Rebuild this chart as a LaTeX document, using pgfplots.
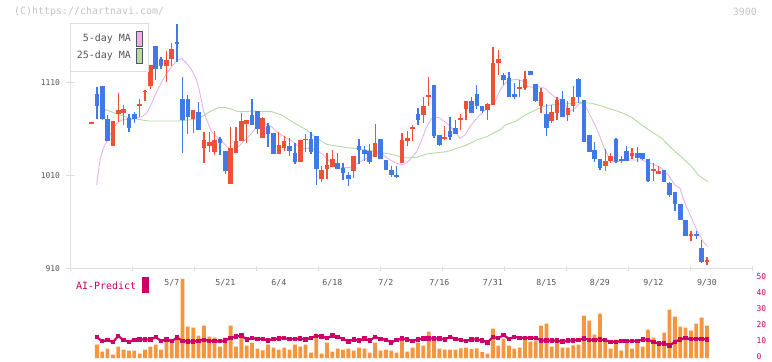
\documentclass[border=0pt]{standalone}
\usepackage{pgfplots}
\usepackage{pgfplotstable}
\pgfplotsset{compat=1.18}
\usepackage{fontspec}
\setmainfont{DejaVu Sans}
\newfontfamily\mono{DejaVu Sans Mono}
\definecolor{cred}{HTML}{F05038}
\definecolor{cblue}{HTML}{3F7AE8}
\definecolor{mapink}{HTML}{E8B4E8}
\definecolor{magreen}{HTML}{B4DAA6}
\definecolor{vorange}{HTML}{F39642}
\definecolor{aimag}{HTML}{CC0066}
\definecolor{axgray}{HTML}{DDDDDD}
\definecolor{txgray}{HTML}{555555}
\definecolor{hdgray}{HTML}{C4C4C4}

\pgfplotstableread{
i o h l c
1 1066 1067.5 1066 1067.5
5 1042 1068 1042 1068
6 1076 1098.5 1067.5 1080
7 1077 1085.5 1064 1081
10 1084.5 1092.5 1073 1086.5
11 1099.5 1101.7 1090 1101
12 1106 1128.5 1103 1128.5
15 1127 1143.5 1110.5 1134
16 1135.5 1152 1127 1146
20 1071 1080 1055 1080
22 1039 1057 1023 1048
23 1042 1057 1035.5 1045.5
24 1035.5 1057.5 1032 1048
27 1001 1061.5 1000.5 1039.5
28 1034.5 1061.5 1034.5 1047
29 1047 1076.5 1047 1068
30 1065.5 1069.5 1045 1069.5
33 1050 1073 1050 1071.5
36 1033 1057 1033 1042.5
37 1039.5 1052 1036.5 1047
40 1024.5 1048 1024.5 1048
41 1048 1054.5 1035 1049.5
44 1006 1020 1003 1015.5
45 1017 1033.5 1005.5 1021
46 1019 1037 1019 1027.5
50 1015 1031 1007.5 1031
54 1029.5 1065.5 1029.5 1044.5
59 1023.5 1055 1023.5 1048
60 1047 1058 1041 1050.5
61 1060.5 1064 1047 1062
63 1075 1094.5 1066.5 1084
64 1094.5 1116 1084 1096
67 1049.5 1063 1048.5 1051.5
70 1070 1076 1058.5 1071.5
71 1081.5 1090 1070 1090
75 1080 1088 1070 1086.5
76 1085.5 1148.5 1085.5 1131
77 1130.5 1144.5 1118 1135
81 1103.5 1112.5 1094 1105
82 1104 1122 1101.5 1113.5
85 1085 1103.5 1077.5 1100
87 1068.5 1085.5 1066 1078
88 1077.5 1094 1069.5 1091
90 1075 1090 1068.5 1082
91 1085 1106 1078.5 1094.5
97 1020 1038.5 1015 1025.5
98 1025.5 1033.5 1023 1031
102 1031 1039.5 1027.5 1033.5
106 1015 1023 1004 1016.5
107 1011 1020 1011 1014.5
113 945 950.5 939.5 946.5
116 917 922.5 913.5 918.5
}\up

\pgfplotstableread{
i o h l c
2 1097 1105 1070.5 1084
3 1106 1106 1070 1070.5
4 1070.5 1075 1047 1047
8 1071.5 1076 1056.5 1061
9 1076 1078 1066 1071
13 1149 1149 1112.5 1124.5
14 1135 1137.5 1124 1127
17 1153 1172.5 1132 1151.5
18 1092 1115.5 1034 1069
19 1092 1096 1054.5 1073
21 1078 1089 1059 1059
25 1049.5 1051 1032 1045
26 1036.5 1036.5 1011.5 1015
31 1075 1092 1064.5 1064.5
32 1079 1079 1054 1060
34 1063 1066 1040 1054.5
35 1056 1056 1033 1033
38 1041 1050 1031 1036.5
39 1034.5 1044.5 1022 1024.5
42 1049 1056.5 1033 1035
43 1052 1052 999.5 1017
47 1023 1033.5 1017 1017
48 1018 1023 1005 1013
49 1010.5 1014 999 1006.5
51 1041.5 1049 1022 1037
52 1037 1041.5 1025.5 1033
53 1036 1043.5 1022 1024.5
55 1049 1049 1028 1028
56 1026.5 1026.5 1015.5 1015.5
57 1015.5 1020.5 1008.5 1010.5
58 1010.5 1020 1007.5 1008.5
62 1076 1082.5 1064.5 1069.5
65 1107 1107 1050 1052.5
66 1053.5 1053.5 1041 1042.5
68 1058 1072.5 1048.5 1051.5
69 1061 1069 1054.5 1054.5
72 1090 1094 1077.5 1077.5
73 1097.5 1107 1081 1084.5
74 1084.5 1084.5 1076.5 1079.5
78 1118 1120.5 1107 1112.5
79 1114.5 1121 1094.5 1094.5
80 1097.5 1109 1092 1094
83 1122 1122 1118 1118
84 1108 1108 1089 1090
86 1076 1086.5 1052.5 1061
89 1092 1100.5 1073 1073
92 1113.5 1114.5 1088 1094.5
93 1091 1091 1046 1046
94 1053.5 1053.5 1035.5 1035.5
95 1037 1046 1024.5 1027.5
96 1027.5 1027.5 1015.5 1018
99 1049 1050 1023 1024.5
100 1027 1031 1023 1025.5
101 1036 1041.5 1025.5 1025.5
103 1034.5 1040 1024.5 1028.5
104 1033.5 1034 1026.5 1027.5
105 1027.5 1027.5 1003 1004
108 1015.5 1015.5 1003 1003
109 1001.5 1003 987 989
110 992.5 992.5 972 979
111 979 979 962 962
112 962 962 945 945
114 947 950.5 941.5 944.5
115 931.5 940.5 915.5 917
}\down

\pgfplotstableread{
x y
1.97 999.6
2.59 1026.5
3.20 1039.0
4.14 1049.8
5.07 1060.5
5.71 1065.9
6.64 1069.5
7.58 1070.5
8.51 1070.2
9.45 1071.3
10.38 1073.0
11.31 1076.7
12.25 1087.4
13.18 1099.9
14.12 1110.7
15.05 1119.7
15.99 1126.8
16.92 1133.2
17.85 1135.8
18.79 1130.4
19.72 1123.2
20.66 1112.5
21.27 1098.2
21.89 1080.2
22.52 1069.5
23.46 1056.9
24.39 1051.5
25.33 1047.2
26.26 1040.8
27.20 1037.2
28.13 1039.0
29.06 1044.4
30.00 1049.8
30.93 1055.2
31.87 1062.3
32.80 1065.2
33.74 1064.8
34.67 1062.3
35.60 1056.9
36.54 1053.3
37.47 1049.8
38.41 1047.2
39.34 1042.6
40.57 1039.0
41.83 1039.0
43.08 1037.2
44.31 1031.8
45.56 1024.6
46.81 1020.0
48.05 1018.2
49.30 1018.2
50.55 1022.2
51.78 1026.5
53.04 1030.0
54.29 1033.7
55.52 1031.8
56.77 1026.5
58.03 1022.9
59.26 1021.1
60.51 1026.5
61.76 1035.4
62.70 1048.0
63.63 1062.3
64.56 1071.3
65.80 1072.4
67.05 1067.6
67.98 1063.0
68.92 1056.9
69.85 1049.8
70.79 1053.3
71.72 1062.3
72.97 1071.3
74.21 1078.4
75.46 1085.6
76.39 1089.1
77.33 1101.7
78.26 1108.9
79.51 1112.5
80.75 1113.2
81.68 1110.7
82.61 1105.3
83.55 1104.6
84.48 1105.3
85.73 1103.6
86.67 1098.2
87.60 1093.9
88.53 1091.7
89.47 1085.6
90.40 1078.4
91.34 1082.0
92.27 1087.4
93.21 1085.6
94.14 1074.8
95.08 1064.1
96.01 1051.5
96.95 1037.2
97.88 1026.5
98.81 1024.6
100.07 1025.4
101.30 1026.5
102.55 1026.5
103.80 1026.5
105.04 1024.0
106.29 1021.1
107.54 1017.5
108.77 1010.3
110.02 999.6
110.96 996.0
111.89 979.9
113.14 963.8
114.08 951.2
115.31 938.6
116.14 933.2
}\mafive

\pgfplotstableread{
x y
2.59 1083.1
3.52 1081.0
5.39 1076.7
7.26 1073.0
9.74 1070.2
11.61 1068.4
17.22 1068.4
20.34 1070.2
21.59 1073.0
23.14 1078.4
24.69 1082.7
25.94 1083.1
27.20 1081.0
28.43 1078.4
29.68 1078.4
30.93 1079.1
34.67 1078.4
36.54 1074.8
37.77 1070.2
39.02 1065.9
41.21 1058.7
43.08 1049.8
44.95 1043.3
47.43 1040.8
49.92 1039.0
52.42 1037.2
54.29 1035.4
56.77 1032.9
58.64 1030.0
59.89 1028.6
61.76 1029.4
63.63 1032.9
65.50 1034.3
67.37 1035.4
69.24 1039.0
71.10 1042.6
72.97 1048.0
74.84 1051.5
76.08 1055.2
77.33 1058.7
78.26 1064.1
80.13 1067.6
82.00 1074.8
83.87 1080.2
85.73 1084.5
87.60 1086.3
90.09 1087.0
92.59 1088.5
94.46 1087.4
96.33 1084.5
98.20 1081.0
100.07 1077.3
101.93 1072.4
103.80 1064.1
105.67 1056.9
107.54 1049.8
109.41 1039.0
111.28 1029.4
113.14 1019.3
114.38 1010.3
116.14 1003.1
}\matwentyfive

\pgfplotstableread{
i v p
2 8.3 13
3 4 10.5
4 5.8 11.2
5 2.1 9.9
6 7.1 13.7
7 5.2 11.2
8 4.6 10.1
9 4.6 11.4
10 2.7 11.6
11 5.2 11.6
12 7.1 11.6
13 8.3 13
14 5.2 10.7
15 10 11.6
16 11.5 10.5
17 14 12.8
18 49.4 10.7
19 19.6 10.3
20 19 10.3
21 14 10.7
22 20.2 11.4
23 13.3 10.7
24 12.7 10.5
25 7.1 10.5
26 12.7 10.9
27 20.2 12.6
28 7.1 13.4
29 13 14
30 7.7 11.6
31 9.6 12.4
32 5.8 12
33 4.7 12
34 8.3 10.9
35 6.5 11.8
36 5.2 12.2
37 6.5 12.4
38 5.2 11.8
39 8.3 11.8
40 7.1 12.2
41 8.3 11.6
42 3.3 12.6
43 15.2 13.8
44 2.7 13.4
45 9.6 12.4
46 4 14
47 5.8 13
48 5.2 12
49 5.8 10.3
50 4.6 11.6
51 6.5 10.9
52 5.8 12.2
53 3.3 10.9
54 9.6 13.2
55 4.6 12
56 5.2 11.4
57 4.6 9.7
58 3.3 11.2
59 10.8 12.2
60 4 11.6
61 6.5 10.7
62 9.6 11.6
63 7.7 12.2
64 16.5 12.2
65 10.8 12.2
66 5.8 12.2
67 5.2 11.6
68 5.2 13.2
69 5.2 12
70 6 11.2
71 6.5 10.7
72 5.5 11.6
73 6 11.6
74 3.6 10.9
75 2.7 9.7
76 18.3 13.2
77 7.7 12.4
78 12 14.3
79 7.7 12
80 5.8 13.2
81 6.5 12.6
82 12 12.6
83 10.2 12.6
84 11 12.6
85 20.2 10.9
86 21.5 10.9
87 7.1 10.9
88 10.8 10.9
89 6.5 10.3
90 6.5 10.9
91 7.9 10.9
92 8.3 11.4
93 26.5 12.2
94 23.3 11.4
95 14.6 11.4
96 27.7 11.6
97 10.8 11.2
98 5.8 10.1
99 11.5 10.1
100 4.6 10.7
101 10.8 10.7
102 5.8 10.7
103 10.8 10.7
104 7.1 11.6
105 17.7 11.4
106 12.7 9.9
107 8.6 9.1
108 15.8 9.1
109 30.2 7.8
110 25.8 10.1
111 19.6 11.6
112 19 12.4
113 17.1 11.8
114 21.5 12
115 25.2 12
116 20.2 11.6
}\vol

\pgfplotsset{
  candle/.style 2 args={only marks, mark=*, mark size=0pt, mark options={draw=none, fill=none},
    error bars/.cd, y dir=both, y explicit, error mark=none,
    error bar style={draw=#1, line width=#2}},
}

\begin{document}
\begin{tikzpicture}[x=1bp,y=1bp]
\path[use as bounding box] (0,0) rectangle (772,361);
% main price panel
\begin{axis}[
  at={(70bp,92.7bp)}, anchor=south west,
  width=682bp, height=244.3bp, scale only axis,
  xmin=-3.017, xmax=124.418, ymin=910, ymax=1172.7,
  axis x line*=bottom, axis y line*=left,
  axis line style={draw=axgray, line width=1bp, -},
  xtick={16,26,36,46,56,66,76,86,96,106,116},
  xticklabels={5/7,5/21,6/4,6/18,7/2,7/16,7/31,8/15,8/29,9/12,9/30},
  xtick style={draw=none},
  xticklabel style={font=\mono\fontsize{8.3}{9}\selectfont, text=txgray, yshift=-3bp},
  minor xtick={-3.017,8.568,20.153,31.738,43.323,54.908,66.493,78.078,89.663,101.248,112.833,124.418},
  minor x tick style={draw=axgray, line width=1bp},
  minor tick length=5bp,
  ytick={910,1010,1110},
  /pgf/number format/set thousands separator={},
  /pgf/number format/assume math mode=true,
  yticklabel style={font=\mono\fontsize{8}{9}\selectfont, text=txgray, anchor=east, xshift=-2bp},
  ytick style={draw=axgray, line width=1bp},
  tick align=center, major tick length=9bp,
  clip=false,
]
\addplot[mapink, line width=0.9bp, mark=none] table[x=x,y=y] {\mafive};
\addplot[magreen, line width=0.9bp, mark=none] table[x=x,y=y] {\matwentyfive};
% wicks
\addplot[candle={cred}{1.3bp}]
  table[x=i, y expr={(\thisrow{h}+\thisrow{l})/2}, y error expr={(\thisrow{h}-\thisrow{l})/2}] {\up};
\addplot[candle={cblue}{1.3bp}]
  table[x=i, y expr={(\thisrow{h}+\thisrow{l})/2}, y error expr={(\thisrow{h}-\thisrow{l})/2}] {\down};
% bodies
\addplot[candle={cred}{4.6bp}]
  table[x=i, y expr={(\thisrow{o}+\thisrow{c})/2}, y error expr={(\thisrow{c}-\thisrow{o})/2}] {\up};
\addplot[candle={cblue}{4.6bp}]
  table[x=i, y expr={(\thisrow{o}+\thisrow{c})/2}, y error expr={(\thisrow{o}-\thisrow{c})/2}] {\down};
\end{axis}
% volume / AI panel
\begin{axis}[
  at={(70bp,3bp)}, anchor=south west,
  width=682bp, height=80bp, scale only axis,
  xmin=-3.017, xmax=124.418, ymin=0, ymax=50,
  axis x line=none, axis y line*=right,
  axis line style={draw=none},
  ytick={0,10,20,30,40,50},
  tick style={draw=none},
  /pgf/number format/assume math mode=true,
  yticklabel style={font=\mono\fontsize{8}{9}\selectfont, text=aimag, anchor=west, xshift=1bp, yshift=1bp},
  clip=false,
]
\addplot[ybar, bar width=3.8bp, fill=vorange, draw=none] table[x=i,y=v] {\vol};
\addplot[aimag, line width=2.2bp, mark=square*, mark size=1.1bp] table[x=i,y=p] {\vol};
\end{axis}
% legend box
\draw[axgray, line width=1bp, fill=white] (70,290) rectangle (148,337);
\node[anchor=east, inner sep=0pt, text=txgray, font=\mono\fontsize{10}{11}\selectfont] at (131,322.5) {5-day MA};
\node[anchor=east, inner sep=0pt, text=txgray, font=\mono\fontsize{10}{11}\selectfont] at (131,305.5) {25-day MA};
\draw[draw=txgray, line width=0.8bp, fill=mapink] (136.3,314.6) rectangle (142.4,329.7);
\draw[draw=txgray, line width=0.8bp, fill=magreen] (136.3,298) rectangle (142.4,312.4);
% header
\node[anchor=west, inner sep=0pt, text=hdgray, font=\mono\fontsize{10}{11}\selectfont] at (14,349) {(C)https://chartnavi.com/};
\node[anchor=east, inner sep=0pt, text=hdgray, font=\mono\fontsize{10}{11}\selectfont] at (757,349) {3900};
% AI-Predict label
\node[anchor=west, inner sep=0pt, text=aimag, font=\mono\fontsize{10}{11}\selectfont] at (76,75) {AI-Predict};
\fill[aimag] (142,68.3) rectangle (149,83.7);
\end{tikzpicture}
\end{document}
